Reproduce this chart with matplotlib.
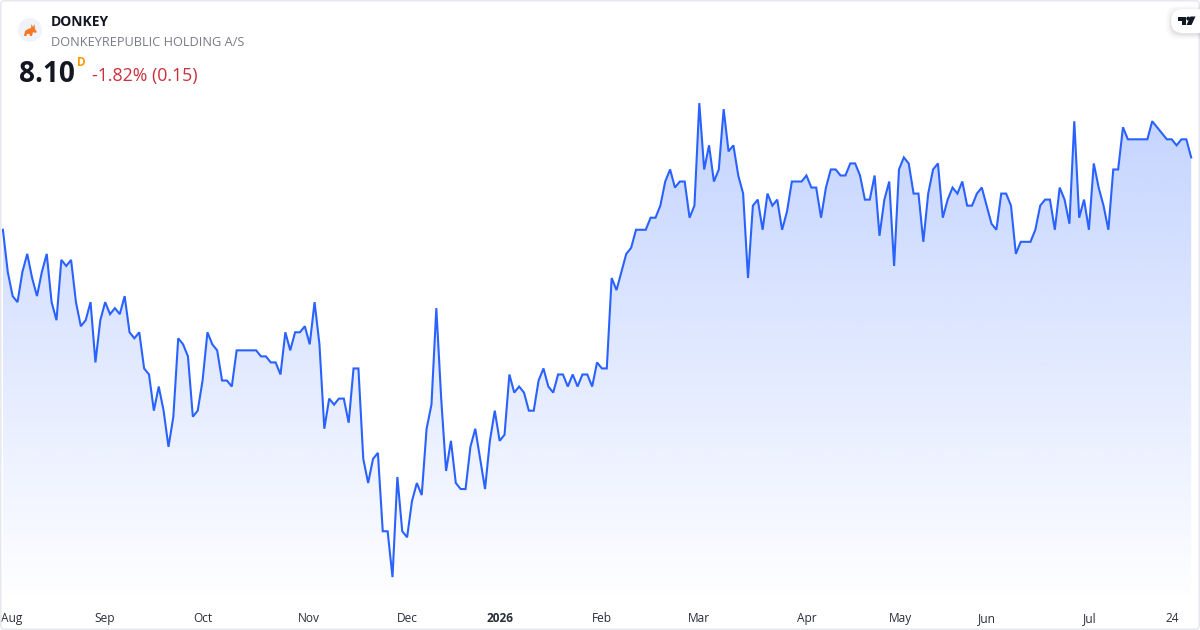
#!/usr/bin/env python3
"""Area chart of the DONKEY daily close, mini chart style."""

import matplotlib

matplotlib.use("Agg")
import matplotlib.pyplot as plt
import numpy as np
from matplotlib.patches import Circle, FancyBboxPatch, Polygon

TICKER = "DONKEY"
COMPANY = "DONKEYREPUBLIC HOLDING A/S"
LAST_PRICE = "8.10"
CHANGE = "-1.82% (0.15)"

PRICES = [
    7.50, 7.15, 6.95, 6.90, 7.15, 7.30, 7.10, 6.95, 7.15, 7.30,
    6.90, 6.75, 7.25, 7.20, 7.25, 6.90, 6.70, 6.75, 6.90, 6.40,
    6.75, 6.90, 6.80, 6.85, 6.80, 6.95, 6.65, 6.60, 6.65, 6.35,
    6.30, 6.00, 6.20, 6.00, 5.70, 5.95, 6.60, 6.55, 6.45, 5.95,
    6.00, 6.25, 6.65, 6.55, 6.50, 6.25, 6.25, 6.20, 6.50, 6.50,
    6.50, 6.50, 6.50, 6.45, 6.45, 6.40, 6.40, 6.30, 6.65, 6.50,
    6.65, 6.65, 6.70, 6.55, 6.90, 6.55, 5.85, 6.10, 6.05, 6.10,
    6.10, 5.90, 6.35, 6.35, 5.60, 5.40, 5.60, 5.65, 5.00, 5.00,
    4.62, 5.45, 5.00, 4.95, 5.25, 5.40, 5.30, 5.85, 6.05, 6.85,
    6.10, 5.50, 5.75, 5.40, 5.35, 5.35, 5.70, 5.85, 5.60, 5.35,
    5.75, 6.00, 5.75, 5.80, 6.30, 6.15, 6.20, 6.15, 6.00, 6.00,
    6.25, 6.35, 6.20, 6.15, 6.30, 6.30, 6.20, 6.30, 6.20, 6.30,
    6.30, 6.20, 6.40, 6.35, 6.35, 7.10, 7.00, 7.15, 7.30, 7.35,
    7.50, 7.50, 7.50, 7.60, 7.60, 7.70, 7.90, 8.00, 7.85, 7.90,
    7.90, 7.60, 7.70, 8.55, 8.00, 8.20, 7.90, 8.00, 8.50, 8.15,
    8.20, 7.95, 7.80, 7.10, 7.70, 7.75, 7.50, 7.80, 7.70, 7.75,
    7.50, 7.65, 7.90, 7.90, 7.90, 7.95, 7.85, 7.85, 7.60, 7.85,
    8.00, 8.00, 7.95, 7.95, 8.05, 8.05, 7.95, 7.75, 7.75, 7.95,
    7.45, 7.75, 7.90, 7.20, 8.00, 8.10, 8.05, 7.80, 7.80, 7.40,
    7.80, 8.00, 8.05, 7.60, 7.75, 7.85, 7.80, 7.90, 7.70, 7.70,
    7.80, 7.85, 7.70, 7.55, 7.50, 7.80, 7.80, 7.70, 7.30, 7.40,
    7.40, 7.40, 7.50, 7.70, 7.75, 7.75, 7.50, 7.85, 7.75, 7.55,
    8.40, 7.60, 7.75, 7.50, 8.05, 7.85, 7.70, 7.50, 8.00, 8.00,
    8.35, 8.25, 8.25, 8.25, 8.25, 8.25, 8.40, 8.35, 8.30, 8.25,
    8.25, 8.20, 8.25, 8.25, 8.10,
]
TICK_POS = [1.8, 20.9, 41, 62.9, 83, 102, 123, 143, 165, 184.3, 202, 223.2, 240]
TICK_LABELS = ["Aug", "Sep", "Oct", "Nov", "Dec", "2026", "Feb", "Mar", "Apr", "May", "Jun", "Jul", "24"]

LINE_COLOR = "#2962ff"
W, H = 1200, 630
PLOT_BOTTOM = 605
PX_PER_BAR = 4.87
FIRST_BAR_PX = 2.9
PX_PER_UNIT = 120.6
LAST_PX = 157.4

plt.rcParams["font.family"] = ["Open Sans", "DejaVu Sans"]

fig = plt.figure(figsize=(W / 100, H / 100), dpi=100, facecolor="white")

ax = fig.add_axes([0, 1 - PLOT_BOTTOM / H, 1, PLOT_BOTTOM / H])
x = np.arange(len(PRICES))
y = np.array(PRICES)

xlim = (-FIRST_BAR_PX / PX_PER_BAR, (W - FIRST_BAR_PX) / PX_PER_BAR)
ylim = (y[-1] - (PLOT_BOTTOM - LAST_PX) / PX_PER_UNIT, y[-1] + LAST_PX / PX_PER_UNIT)

# vertical gradient under the line, clipped to the area shape
fill = ax.fill_between(x, y, ylim[0], color="none", linewidth=0)
rows = 256
grad = np.zeros((rows, 1, 4))
grad[:, 0, :3] = matplotlib.colors.to_rgb(LINE_COLOR)
grad[:, 0, 3] = np.linspace(0.28, 0.0, rows)
img = ax.imshow(grad, extent=(x[0], x[-1], ylim[0], y.max()), aspect="auto", zorder=1)
img.set_clip_path(fill.get_paths()[0], transform=ax.transData)

ax.plot(x, y, color=LINE_COLOR, linewidth=1.5, solid_joinstyle="miter", zorder=2)

ax.set_xlim(xlim)
ax.set_ylim(ylim)
for spine in ax.spines.values():
    spine.set_visible(False)
ax.set_yticks([])
ax.set_xticks(TICK_POS, TICK_LABELS)
ax.tick_params(axis="x", length=0, pad=12.2, labelsize=8.6, labelcolor="#2a2e39")
for label in ax.get_xticklabels():
    label.set_verticalalignment("baseline")
ax.get_xticklabels()[TICK_LABELS.index("2026")].set_fontweight("bold")
ax.patch.set_alpha(0)

# header, logos and frame live on an overlay in pixel coordinates
ov = fig.add_axes([0, 0, 1, 1])
ov.set_xlim(0, W)
ov.set_ylim(H, 0)
ov.axis("off")
ov.patch.set_alpha(0)

ov.add_patch(FancyBboxPatch((0.75, 0.75), W - 1.5, H - 1.5, boxstyle="round,pad=0,rounding_size=4",
                            facecolor="none", edgecolor="#e6e8ee", linewidth=1.1))

ov.add_patch(Circle((30, 30), 12, facecolor="#f0f3fa", edgecolor="none"))
donkey = [(24, 36), (25, 31), (28, 29), (31, 28), (31.5, 24), (33, 27), (34.5, 24), (35, 29),
          (37, 32), (35, 33), (33, 32), (32, 36), (30, 36), (29.5, 34), (27, 34), (26.5, 36)]
ov.add_patch(Polygon(donkey, closed=True, facecolor="#f47a25", edgecolor="none"))

ov.text(51, 21.5, TICKER, fontsize=10.0, fontweight="bold", color="#131722", va="center", ha="left")
ov.text(51, 42, COMPANY, fontsize=9.2, color="#787b86", va="center", ha="left")
ov.text(19, 74, LAST_PRICE, fontsize=20.2, fontweight="bold", color="#131722", va="center", ha="left")
ov.text(77, 62.5, "D", fontsize=8.5, fontweight="bold", color="#ff9800", va="center", ha="left")
ov.text(92, 75.5, CHANGE, fontsize=12.8, color="#cc2f3c", va="center", ha="left")

# TradingView badge in the top right corner
for grow, alpha in [(5, 0.015), (3.5, 0.02), (2, 0.03), (1, 0.04)]:
    ov.add_patch(FancyBboxPatch((1171 - grow, 9 - grow + 1.5), 40 + grow, 24 + 2 * grow,
                                boxstyle="round,pad=0,rounding_size=12", facecolor="black",
                                edgecolor="none", alpha=alpha, clip_on=True))
ov.add_patch(FancyBboxPatch((1171, 9), 40, 24, boxstyle="round,pad=0,rounding_size=12",
                            facecolor="white", edgecolor="none"))
ov.add_patch(Polygon([(1177.5, 16.5), (1186, 16.5), (1186, 25), (1182, 25), (1182, 20.5), (1177.5, 20.5)],
                     closed=True, facecolor="#131722", edgecolor="none"))
ov.add_patch(Circle((1188.3, 18.6), 2.0, facecolor="#131722", edgecolor="none"))
ov.add_patch(Polygon([(1190.5, 16.5), (1195.5, 16.5), (1191.5, 25), (1186.5, 25)],
                     closed=True, facecolor="#131722", edgecolor="none"))

fig.savefig("out.png", dpi=100)
plt.close(fig)
